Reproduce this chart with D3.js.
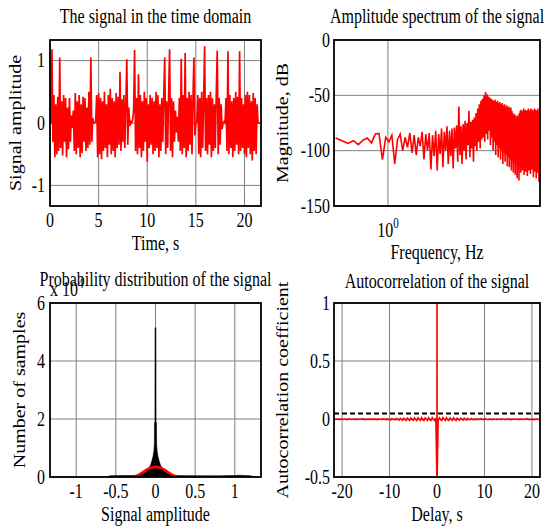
<!DOCTYPE html>
<html>
<head>
<meta charset="utf-8">
<script src="https://cdn.jsdelivr.net/npm/d3@7"></script>
<style>
  body { margin: 0; background: #fff; }
  svg { display: block; }
</style>
</head>
<body>
<script>
// signal samples, dt = 0.1 s
var sigStep = 0.1
var signal = [
  0, 0, 1.18, -0.3, 0.45, -0.55, 0.3, -0.5, 0.42, -0.45,
  1.05, -0.4, 0.35, -0.52, 0.45, -0.3, 0.4, -0.55, 0.25, -0.42,
  0.4, -0.3, 0.12, -0.08, 0.2, -0.45, 0.48, -0.5, 0.35, -0.4,
  0.45, -0.55, 0.3, -0.48, 0.42, -0.3, 0.4, -0.45, 0.25, -0.4,
  0.5, -0.35, 1.05, -0.3, 0.08, 0, 0, 0.02, 0.45, -0.55,
  0.48, -0.5, 0.4, -0.58, 0.35, -0.45, 0.5, -0.4, 0.3, -0.55,
  0.45, -0.35, 0.55, -0.5, 0.4, -0.45, 0.35, -0.55, 0.48, -0.4,
  0.42, -0.35, 0.82, -0.45, 0.38, -0.3, 0.45, -0.4, 0.3, 1.02,
  -0.35, 0.25, -0.05, 0.02, 0, 0.05, 0.2, 1.17, -0.45, 0.4,
  -0.5, 0.78, -0.4, 0.45, -0.55, 0.35, -0.45, 0.5, -0.3, 0.4,
  -0.62, 0.3, -0.4, 0.45, -0.35, 0.4, -0.5, 0.35, -0.45, 0.5,
  -0.4, 0.45, -0.55, 0.3, -0.45, 0.4, -0.3, 0.45, 1.05, -0.5,
  0.35, -0.4, 0.45, 1.18, -0.45, 0.4, -0.55, 0.35, -0.3, 0.2,
  -0.15, 0.1, -0.3, 0.4, -0.45, 1.03, -0.5, 0.45, -0.4, 1.12,
  -0.55, 0.4, -0.45, 0.5, -0.35, 0.45, -0.5, 0.35, 1.05, -0.2,
  0, 0.02, 0.45, -0.5, 0.4, -0.55, 0.5, -0.4, 0.35, 1.23,
  -0.45, 0.4, -0.5, 0.45, -0.35, 0.5, -0.55, 0.4, -0.45, 0.3,
  -0.4, 0.45, 1.16, -0.5, 0.4, -0.35, 0.3, -0.1, 0, 0.02,
  0, 0.4, -0.45, 1.15, -0.5, 0.45, -0.4, 0.35, -0.55, 0.4,
  -0.45, 0.5, -0.35, 0.42, -0.5, 1.15, -0.45, 0.4, -0.4, 0.3,
  -0.5, 0.45, -0.55, 0.5, -0.4, 0.45, -0.5, 0.35, -0.6, 0.48,
  -0.45, 0.4, -0.5, 0.3, 0, 0, 0, 0
]

// spectrum in dB, bins k = 10..206, df = 1/21.7 Hz
var freqStep = 1 / 21.7
var firstBin = 10
var spectrumDb = [
  -88.5, -91, -93.5, -91, -94.5, -90.5, -88.5, -93, -85, -84.5,
  -108, -88, -92, -86, -112, -90, -85, -100, -88, -97,
  -84, -102, -86, -104, -88, -96, -83, -108, -85, -100,
  -84, -117, -86, -105, -82, -118, -85, -103, -80, -115,
  -83, -100, -78, -112, -82, -105, -80, -116, -79, -98,
  -77, -110, -60, -104, -78, -112, -76, -100, -73, -108,
  -75, -95, -64, -106, -74, -98, -72, -110, -70, -96,
  -66, -100, -62, -92, -58, -98, -55, -90, -53, -88,
  -50, -92, -47, -85, -49, -90, -51, -82, -52, -95,
  -53, -88, -54, -100, -55, -92, -54, -104, -56, -95,
  -55, -106, -57, -98, -56, -108, -58, -100, -57, -112,
  -59, -102, -58, -110, -60, -104, -59, -114, -61, -106,
  -60, -115, -62, -108, -61, -118, -64, -110, -66, -120,
  -68, -112, -67, -122, -69, -108, -70, -125, -68, -114,
  -70, -127, -66, -110, -64, -120, -63, -112, -65, -118,
  -64, -108, -62, -122, -65, -112, -63, -119, -64, -110,
  -66, -123, -63, -114, -62, -118, -65, -108, -64, -121,
  -62, -112, -65, -117, -63, -110, -66, -124, -64, -113,
  -62, -119, -65, -111, -63, -125, -66, -114, -64, -120,
  -62, -112, -65, -128, -64, -118, -66
]

// amplitude histogram outline (amplitude, samples)
var histAmp = [-0.6, -0.58, -0.4, -0.3, -0.25, -0.2, -0.15, -0.12, -0.1, -0.08, -0.06, -0.045, -0.03, -0.02, -0.014, -0.012, -0.007, -0.005,
  0.005, 0.007, 0.012, 0.014, 0.02, 0.03, 0.045, 0.06, 0.08, 0.1, 0.12, 0.15, 0.2, 0.25, 0.3, 0.4, 0.8, 1.0, 1.06, 1.12, 1.2, 1.25]
var histCount = [0, 400, 500, 500, 600, 800, 1300, 1800, 2400, 3200, 4300, 5600, 7200, 9000, 11500, 18700, 19000, 51500,
  51500, 19000, 18700, 11500, 9000, 7200, 5600, 4300, 3200, 2400, 1800, 1300, 800, 600, 500, 450, 400, 500, 600, 500, 400, 0]

// fitted density (red)
var fitAmp = [-0.3, -0.25, -0.2, -0.15, -0.1, -0.05, 0, 0.05, 0.1, 0.15, 0.2, 0.25, 0.3]
var fitCount = [0, 300, 900, 1800, 2700, 3300, 3500, 3300, 2700, 1800, 900, 300, 0]

// autocorrelation, lag from -21.75 s, step 0.25 s
var acfStart = -21.75
var acfStep = 0.25
var acfValues = [
  -0.002, -0.005, 0.001, -0.004, -0.001, -0.006, 0.000, -0.003, -0.005, 0.001,
  -0.004, -0.002, -0.006, 0.001, -0.003, -0.005, 0.000, -0.004, -0.001, -0.006,
  0.001, -0.003, -0.005, -0.001, -0.004, 0.002, -0.006, -0.002, -0.004, 0.001,
  -0.005, -0.001, -0.003, -0.006, 0.002, -0.004, -0.002, -0.005, 0.001, -0.003,
  -0.006, 0.002, -0.004, -0.001, -0.007, 0.003, -0.005, -0.002, -0.008, 0.004,
  -0.006, -0.001, -0.009, 0.005, -0.004, -0.01, 0.006, -0.003, -0.011, 0.007,
  -0.005, -0.012, 0.008, -0.002, -0.013, 0.009, -0.006, -0.012, 0.01, -0.004,
  -0.014, 0.011, -0.003, -0.013, 0.012, -0.006, -0.014, 0.01, -0.002, -0.012,
  0.011, -0.008, -0.013, 0.012, -0.005, -0.014, 0.009,
  1.0,
  -0.012, 0.01, -0.006, -0.014, 0.012, -0.003, -0.013, 0.011, -0.007, -0.014,
  0.009, -0.002, -0.012, 0.01, -0.005, -0.013, 0.008, -0.004, -0.011, 0.007,
  -0.002, -0.01, 0.006, -0.005, -0.009, 0.005, -0.003, -0.008, 0.004, -0.006,
  -0.002, -0.007, 0.003, -0.005, -0.001, -0.006, 0.002, -0.004, -0.002, -0.005,
  0.001, -0.003, -0.006, 0.000, -0.004, -0.002, -0.005, 0.001, -0.003, -0.006,
  0.000, -0.004, -0.001, -0.005, 0.002, -0.003, -0.006, -0.001, -0.004, 0.001,
  -0.005, -0.002, -0.006, 0.000, -0.003, -0.005, 0.001, -0.004, -0.002, -0.006,
  0.001, -0.003, -0.005, -0.001, -0.004, 0.002, -0.006, -0.002, -0.004, 0.000,
  -0.005, -0.002, -0.004, 0.001, -0.003, -0.005, -0.002
]
// the sharp negative samples right beside zero lag
var acfDipLag = [-0.01, 0.01]
var acfDipVal = [-0.56, -0.56]
var confBound = 0.048

// tick values
var timeTicks = [0, 5, 10, 15, 20]
var ampTicks = [-1, 0, 1]
var dbTicks = [-150, -100, -50, 0]
var freqTicks = [1]
var histXTicks = [-1, -0.5, 0, 0.5, 1]
var histYTicks = [0, 20000, 40000, 60000]
var lagTicks = [-20, -10, 0, 10, 20]
var acfTicks = [-0.5, 0, 0.5, 1]

var W = 549, H = 526
var FONT = '"Liberation Serif", "Times New Roman", serif'
var SX = 0.8

var svg = d3.select('body').append('svg')
  .attr('width', W)
  .attr('height', H)

function addText(x, y, s, anchor, baseline, rot, size) {
  var t = 'translate(' + x + ',' + y + ') scale(' + SX + ',1)'
  if (rot) t += ' rotate(' + rot + ')'
  return svg.append('text')
    .attr('transform', t)
    .attr('text-anchor', anchor || 'middle')
    .attr('dominant-baseline', baseline || 'auto')
    .style('font-family', FONT)
    .style('font-size', (size || 20) + 'px')
    .style('fill', '#000')
    .text(s)
}

function fmt(v) { return String(v) }

function makePanel(id, box, x, y, xGrid, yGrid) {
  svg.append('clipPath').attr('id', id)
    .append('rect')
    .attr('x', box.left).attr('y', box.top)
    .attr('width', box.right - box.left).attr('height', box.bottom - box.top)

  var g = svg.append('g')
  g.selectAll('.vg').data(xGrid).enter().append('line')
    .attr('x1', d => x(d)).attr('x2', d => x(d))
    .attr('y1', box.top).attr('y2', box.bottom)
    .attr('stroke', '#808080').attr('stroke-width', 1)
  g.selectAll('.hg').data(yGrid).enter().append('line')
    .attr('x1', box.left).attr('x2', box.right)
    .attr('y1', d => y(d)).attr('y2', d => y(d))
    .attr('stroke', '#808080').attr('stroke-width', 1)

  return svg.append('g').attr('clip-path', 'url(#' + id + ')')
}

function drawBox(box) {
  svg.append('rect')
    .attr('x', box.left).attr('y', box.top)
    .attr('width', box.right - box.left).attr('height', box.bottom - box.top)
    .attr('fill', 'none').attr('stroke', '#000').attr('stroke-width', 1.8)
}

// ---------- panel 1: time domain
var b1 = {left: 50, right: 261, top: 40, bottom: 206}
var x1 = d3.scaleLinear().domain([0, 21.7]).range([b1.left, b1.right])
var y1 = d3.scaleLinear().domain([-1.33, 1.33]).range([b1.bottom, b1.top])
var p1 = makePanel('c1', b1, x1, y1, timeTicks, ampTicks)
p1.append('path')
  .datum(signal)
  .attr('d', d3.line().x((d, i) => x1(i * sigStep)).y(d => y1(d)))
  .attr('fill', 'none').attr('stroke', '#ff0000').attr('stroke-width', 1.7)
drawBox(b1)
timeTicks.forEach(v => addText(x1(v), 226.5, fmt(v)))
ampTicks.forEach(v => addText(b1.left - 5, y1(v), fmt(v), 'end', 'central'))
addText((b1.left + b1.right) / 2, 22.5, 'The signal in the time domain')
addText((b1.left + b1.right) / 2, 250, 'Time, s')
addText(21, (b1.top + b1.bottom) / 2, 'Signal amplitude', 'middle', 'auto', -90)

// ---------- panel 2: spectrum
var b2 = {left: 334, right: 540, top: 40, bottom: 206}
var x2 = d3.scaleLog().domain([0.45, 9.5]).range([b2.left, b2.right])
var y2 = d3.scaleLinear().domain([-150, 0]).range([b2.bottom, b2.top])
var p2 = makePanel('c2', b2, x2, y2, freqTicks, dbTicks)
p2.append('path')
  .datum(spectrumDb)
  .attr('d', d3.line().x((d, i) => x2((firstBin + i) * freqStep)).y(d => y2(d)))
  .attr('fill', 'none').attr('stroke', '#ff0000').attr('stroke-width', 1.6)
drawBox(b2)
dbTicks.forEach(v => addText(b2.left - 4, y2(v), fmt(v), 'end', 'central'))
freqTicks.forEach(v => {
  var t = addText(x2(v), 236.5, '10')
  t.append('tspan').attr('dy', -9).style('font-size', '14px').text('0')
})
addText((b2.left + b2.right) / 2, 22.5, 'Amplitude spectrum of the signal')
addText((b2.left + b2.right) / 2, 259, 'Frequency, Hz')
addText(288, (b2.top + b2.bottom) / 2, 'Magnitude, dB', 'middle', 'auto', -90)

// ---------- panel 3: histogram
var b3 = {left: 50, right: 261, top: 303, bottom: 477}
var x3 = d3.scaleLinear().domain([-1.33, 1.33]).range([b3.left, b3.right])
var y3 = d3.scaleLinear().domain([0, 60000]).range([b3.bottom, b3.top])
var p3 = makePanel('c3', b3, x3, y3, histXTicks, histYTicks)
p3.append('path')
  .datum(histAmp.map((a, i) => [a, histCount[i]]))
  .attr('d', d3.area().x(d => x3(d[0])).y0(y3(0)).y1(d => y3(d[1])))
  .attr('fill', '#000').attr('stroke', '#000').attr('stroke-width', 0.6)
p3.append('path')
  .datum(fitAmp.map((a, i) => [a, fitCount[i]]))
  .attr('d', d3.line().curve(d3.curveCatmullRom).x(d => x3(d[0])).y(d => y3(d[1])))
  .attr('fill', 'none').attr('stroke', '#ff0000').attr('stroke-width', 2.6)
drawBox(b3)
histXTicks.forEach(v => addText(x3(v), 498, fmt(v)))
histYTicks.forEach(v => addText(b3.left - 5, y3(v), fmt(v / 10000), 'end', 'central'))
var ex = addText(50, 296, 'x 10', 'start')
ex.append('tspan').attr('dy', -8).style('font-size', '14px').text('4')
addText((b3.left + b3.right) / 2, 285.5, 'Probability distribution of the signal')
addText((b3.left + b3.right) / 2, 521, 'Signal amplitude')
addText(25, (b3.top + b3.bottom) / 2, 'Number of samples', 'middle', 'auto', -90)

// ---------- panel 4: autocorrelation
var b4 = {left: 334, right: 540, top: 303, bottom: 477}
var x4 = d3.scaleLinear().domain([-21.7, 21.7]).range([b4.left, b4.right])
var y4 = d3.scaleLinear().domain([-0.5, 1]).range([b4.bottom, b4.top])
var p4 = makePanel('c4', b4, x4, y4, lagTicks, acfTicks)
p4.append('line')
  .attr('x1', b4.left).attr('x2', b4.right)
  .attr('y1', y4(confBound)).attr('y2', y4(confBound))
  .attr('stroke', '#000').attr('stroke-width', 2).attr('stroke-dasharray', '5,3')
var acfSeries = acfValues.map((v, i) => [acfStart + i * acfStep, v])
  .concat(acfDipLag.map((l, i) => [l, acfDipVal[i]]))
  .sort((a, b) => a[0] - b[0])
p4.append('path')
  .datum(acfSeries)
  .attr('d', d3.line().x(d => x4(d[0])).y(d => y4(d[1])))
  .attr('fill', 'none').attr('stroke', '#ff0000').attr('stroke-width', 1.5)
drawBox(b4)
lagTicks.forEach(v => addText(x4(v), 498, fmt(v)))
acfTicks.forEach(v => addText(b4.left - 4, y4(v), fmt(v), 'end', 'central'))
addText((b4.left + b4.right) / 2, 287.5, 'Autocorrelation of the signal')
addText((b4.left + b4.right) / 2, 521, 'Delay, s')
addText(288, (b4.top + b4.bottom) / 2, 'Autocorrelation coefficient', 'middle', 'auto', -90)
</script>
</body>
</html>
